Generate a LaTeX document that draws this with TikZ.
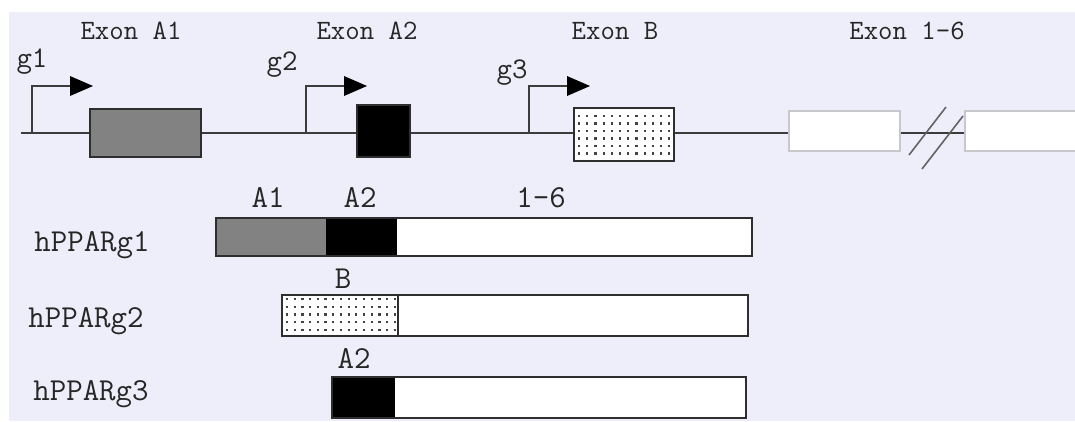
\documentclass[tikz,border=0pt]{standalone}
\usepackage{fontspec}
\definecolor{bg}{HTML}{EEEEFA}
\definecolor{linec}{HTML}{3C3C3C}
\definecolor{boxc}{HTML}{2E2E2E}
\definecolor{greyfill}{HTML}{828282}
\definecolor{pale}{HTML}{C8C8CC}
\definecolor{txt}{HTML}{262626}
\definecolor{dotc}{HTML}{444444}
\tikzset{
  gene/.style={draw=linec, line width=2pt},
  exonbox/.style={draw=boxc, line width=2pt},
  palebox/.style={draw=pale, fill=white, line width=1.6pt},
  tip/.style={fill=black},
  toplbl/.style={font=\ttfamily\fontsize{28}{28}\selectfont, text=txt, inner sep=0pt, anchor=base},
  glbl/.style={font=\ttfamily\fontsize{30}{30}\selectfont, text=txt, inner sep=0pt, anchor=base},
  barlbl/.style={font=\ttfamily\fontsize{32}{32}\selectfont, text=txt, inner sep=0pt, anchor=base},
  slash/.style={draw=linec!80, line width=1.6pt}
}
\newcommand{\dotgrid}[6]{% x0 x1 dx y0 y1 dy
  \foreach \xx in {#1,#3,...,#2}{\foreach \yy in {#4,#6,...,#5}{\fill[dotc] (\xx-1.1,\yy-1.1) rectangle (\xx+1.1,\yy+1.1);}}}
\begin{document}
\begin{tikzpicture}[x=1pt,y=-1pt]
\useasboundingbox (0,0) rectangle (1075,421);
\fill[white] (0,0) rectangle (1075,421);
\fill[bg] (9,12) rectangle (1075,421);

% gene line
\coordinate (L0) at (21,133);
\coordinate (L1) at (789,133);
\coordinate (L2) at (900,133);
\coordinate (L3) at (965,133);
\draw[gene] (L0) -- (L1);
\draw[gene] (L2) -- (L3);

% promoters
\foreach \px/\nm in {32/p1, 306/p2, 529/p3}{
  \coordinate (\nm a) at (\px,133);
  \coordinate (\nm b) at (\px,86);
  \coordinate (\nm c) at (\px+40,86);
  \draw[gene] (\nm a) -- (\nm b) -- (\nm c);
  \fill[tip] (\px+38,76) -- (\px+61,86) -- (\px+38,96) -- cycle;
}

% exons on gene
\draw[exonbox, fill=greyfill] (90,109) rectangle (201,157);
\draw[exonbox, fill=black] (357,105) rectangle (410,157);
\draw[exonbox, fill=white] (574,108) rectangle (674,161);
\dotgrid{579}{670}{587.2}{116}{154}{123.5}
\draw[palebox] (789,111) rectangle (900,151);
\fill[white] (965,111) rectangle (1076,151);
\draw[pale, line width=1.6pt] (1076,111) -- (965,111) -- (965,151) -- (1076,151);

% break slashes
\draw[slash] (909,155) -- (946,107);
\draw[slash] (922,169) -- (963,116);

% top labels
\node[toplbl] (tA1) at (131,39) {Exon A1};
\node[toplbl] (tA2) at (367,39) {Exon A2};
\node[toplbl] (tB) at (615,39) {Exon B};
\node[toplbl] (t16) at (907,39) {Exon 1-6};
\node[glbl] (g1) at (32,67) {g1};
\node[glbl] (g2) at (282,70) {g2};
\node[glbl] (g3) at (512,78) {g3};

% transcript bars
% bar 1
\fill[greyfill] (216,218) rectangle (326,256);
\fill[black] (326,218) rectangle (397,256);
\fill[white] (397,218) rectangle (752,256);
\draw[exonbox] (216,218) rectangle (752,256);
% bar 2
\fill[white] (282,295) rectangle (748,336);
\dotgrid{287}{395}{294.7}{299}{332}{306.7}
\draw[exonbox] (282,295) rectangle (748,336);
\draw[exonbox] (398,295) -- (398,336);
% bar 3
\fill[black] (332,377) rectangle (395,418);
\fill[white] (395,377) rectangle (746,418);
\draw[exonbox] (332,377) rectangle (746,418);

% bar labels
\node[barlbl] (bA1) at (268,207) {A1};
\node[barlbl] (bA2) at (360,207) {A2};
\node[barlbl] (b16) at (541,207) {1-6};
\node[barlbl] (bB) at (343,288) {B};
\node[barlbl] (bA2c) at (354,368) {A2};
\node[barlbl] (h1) at (92,251) {hPPARg1};
\node[barlbl] (h2) at (86,327) {hPPARg2};
\node[barlbl] (h3) at (91,400) {hPPARg3};
\end{tikzpicture}
\end{document}
